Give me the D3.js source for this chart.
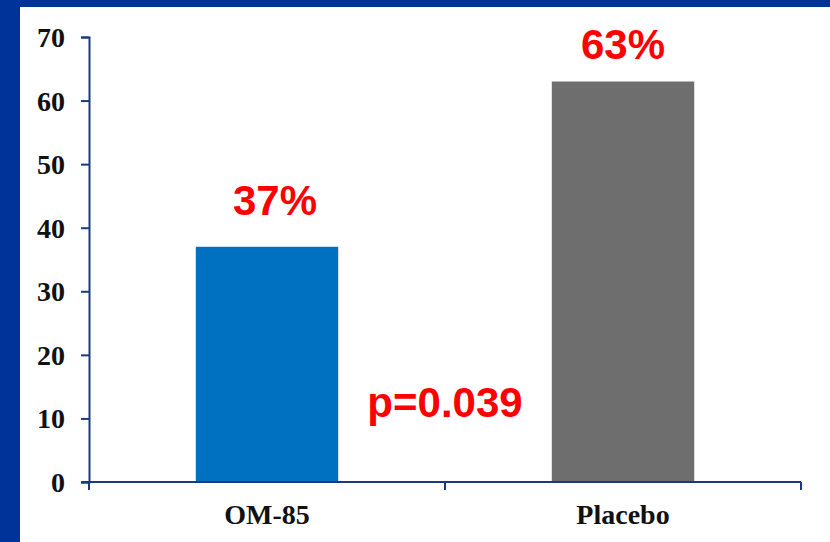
<!DOCTYPE html>
<html>
<head>
<meta charset="utf-8">
<script src="https://cdn.jsdelivr.net/npm/d3@7"></script>
<style>
  html, body { margin: 0; padding: 0; background: #fff; }
  svg { display: block; }
</style>
</head>
<body>
<svg id="chart" width="830" height="542"></svg>
<script>
const categories = ["OM-85", "Placebo"];
const values = [37, 63];
const valueLabels = ["37%", "63%"];
const yTicks = [0, 10, 20, 30, 40, 50, 60, 70];
const pValueText = "p=0.039";
const barColors = ["#0070C0", "#6E6E6E"];

const svg = d3.select("#chart");
const W = 830, H = 542;
const axisColor = "#1A3A80";

// frame
svg.append("rect").attr("x", 0).attr("y", 0).attr("width", W).attr("height", H).attr("fill", "#ffffff");
svg.append("rect").attr("x", 0).attr("y", 0).attr("width", W).attr("height", 7).attr("fill", "#003399");
svg.append("rect").attr("x", 0).attr("y", 0).attr("width", 20).attr("height", H).attr("fill", "#003399");

const x0 = 89, x1 = 801, yBottom = 482, yTop = 37;

const x = d3.scaleBand().domain(categories).range([x0, x1]).paddingInner(0).paddingOuter(0);
const y = d3.scaleLinear().domain([0, 70]).range([yBottom, yTop]);
const barW = x.bandwidth() * 0.4;

// bars
svg.selectAll("rect.bar").data(categories).enter().append("rect")
  .attr("class", "bar")
  .attr("x", d => x(d) + x.bandwidth() / 2 - barW / 2)
  .attr("y", (d, i) => y(values[i]))
  .attr("width", barW)
  .attr("height", (d, i) => y(0) - y(values[i]))
  .attr("fill", (d, i) => barColors[i]);

// y axis
const yAxis = d3.axisLeft(y).tickValues(yTicks).tickSize(8).tickPadding(16).tickFormat(d3.format("d"));
const gy = svg.append("g").attr("transform", `translate(${x0},0)`).call(yAxis);
gy.select(".domain").attr("stroke", axisColor).attr("stroke-width", 2);
gy.selectAll(".tick line").attr("stroke", axisColor).attr("stroke-width", 2);
gy.selectAll(".tick text")
  .attr("fill", "#111")
  .attr("font-family", "'Liberation Serif', 'Times New Roman', serif")
  .attr("font-weight", "bold")
  .attr("font-size", "28px")
  .attr("dy", "0.34em");

// x axis
svg.append("line").attr("x1", x0 - 8).attr("x2", x1).attr("y1", yBottom).attr("y2", yBottom)
  .attr("stroke", axisColor).attr("stroke-width", 2);
const xTickPos = [x0, x0 + x.bandwidth(), x1];
svg.selectAll("line.xt").data(xTickPos).enter().append("line")
  .attr("class", "xt")
  .attr("x1", d => d).attr("x2", d => d)
  .attr("y1", yBottom).attr("y2", yBottom + 8)
  .attr("stroke", axisColor).attr("stroke-width", 2);

// category labels
svg.selectAll("text.cat").data(categories).enter().append("text")
  .attr("class", "cat")
  .attr("x", d => x(d) + x.bandwidth() / 2)
  .attr("y", 524)
  .attr("text-anchor", "middle")
  .attr("fill", "#111")
  .attr("font-family", "'Liberation Serif', 'Times New Roman', serif")
  .attr("font-weight", "bold")
  .attr("font-size", "28px")
  .text(d => d);

// value labels
const labelDx = [8, 0];
const labelGap = [32, 23];
svg.selectAll("text.val").data(categories).enter().append("text")
  .attr("class", "val")
  .attr("x", (d, i) => x(d) + x.bandwidth() / 2 + labelDx[i])
  .attr("y", (d, i) => y(values[i]) - labelGap[i])
  .attr("text-anchor", "middle")
  .attr("fill", "#FF0000")
  .attr("font-family", "'Liberation Sans', Arial, sans-serif")
  .attr("font-weight", "bold")
  .attr("font-size", "42px")
  .text((d, i) => valueLabels[i]);

// p-value
svg.append("text")
  .attr("x", x0 + x.bandwidth())
  .attr("y", 417)
  .attr("text-anchor", "middle")
  .attr("fill", "#FF0000")
  .attr("font-family", "'Liberation Sans', Arial, sans-serif")
  .attr("font-weight", "bold")
  .attr("font-size", "42px")
  .text(pValueText);
</script>
</body>
</html>
